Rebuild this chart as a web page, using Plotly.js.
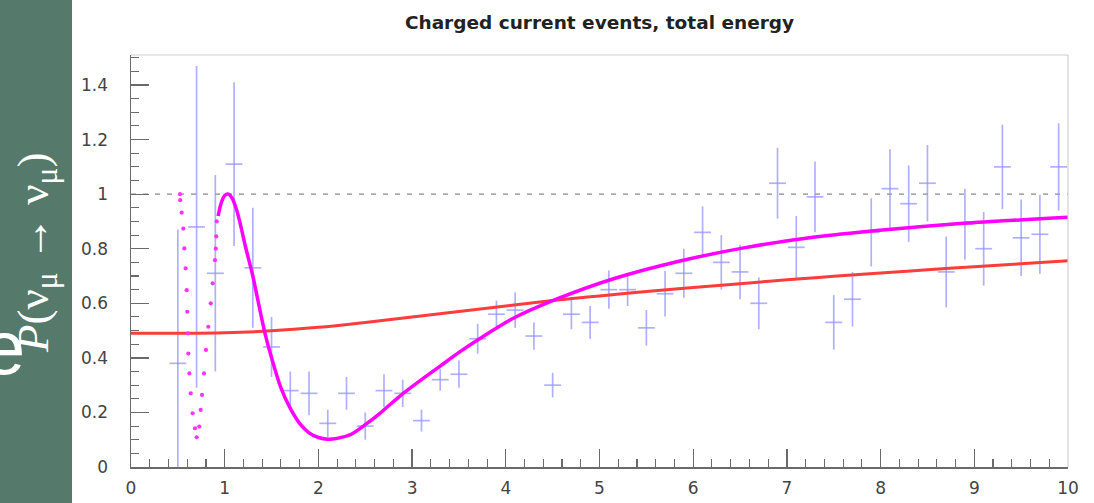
<!DOCTYPE html>
<html>
<head>
<meta charset="utf-8">
<script src="https://cdn.plot.ly/plotly-3.0.1.min.js"></script>
<style>
  html, body { margin: 0; padding: 0; background: #ffffff; }
  #chart { width: 1094px; height: 503px; }
</style>
</head>
<body>
<div id="chart"></div>
<script>
// Measured survival ratio per 0.2-wide energy bin, with statistical errors
const binCentres = [0.5, 0.7, 0.9, 1.1, 1.3, 1.5, 1.7, 1.9, 2.1, 2.3, 2.5, 2.7, 2.9, 3.1, 3.3, 3.5,
  3.7, 3.9, 4.1, 4.3, 4.5, 4.7, 4.9, 5.1, 5.3, 5.5, 5.7, 5.9, 6.1, 6.3, 6.5, 6.7,
  6.9, 7.1, 7.3, 7.5, 7.7, 7.9, 8.1, 8.3, 8.5, 8.7, 8.9, 9.1, 9.3, 9.5, 9.7, 9.9];
const ratio = [0.38, 0.88, 0.71, 1.11, 0.73, 0.44, 0.28, 0.27, 0.16, 0.27, 0.15, 0.28, 0.27, 0.17, 0.32, 0.34,
  0.47, 0.56, 0.575, 0.48, 0.30, 0.56, 0.53, 0.65, 0.65, 0.51, 0.635, 0.71, 0.86, 0.75, 0.715, 0.60,
  1.04, 0.805, 0.99, 0.53, 0.615, 0.86, 1.02, 0.965, 1.04, 0.715, 0.89, 0.80, 1.10, 0.84, 0.853, 1.10];
const ratioErr = [0.49, 0.59, 0.36, 0.30, 0.22, 0.11, 0.07, 0.08, 0.05, 0.06, 0.05, 0.06, 0.05, 0.04, 0.04, 0.05,
  0.055, 0.05, 0.065, 0.05, 0.045, 0.055, 0.06, 0.07, 0.06, 0.065, 0.083, 0.09, 0.095, 0.10, 0.10, 0.095,
  0.13, 0.115, 0.13, 0.10, 0.10, 0.125, 0.145, 0.14, 0.14, 0.13, 0.13, 0.135, 0.155, 0.14, 0.145, 0.16];

// Smooth alternative hypothesis curve
const altE = [0, 0.5, 1.0, 1.5, 2.0, 2.5, 3.0, 3.5, 4.0, 4.5, 5.0, 5.5, 6.0, 6.5, 7.0, 7.5, 8.0, 8.5, 9.0, 9.5, 10];
const altP = [0.490, 0.490, 0.492, 0.499, 0.512, 0.530, 0.550, 0.570, 0.590, 0.610, 0.627, 0.643, 0.658, 0.672, 0.686, 0.699, 0.711, 0.723, 0.734, 0.745, 0.756];

// Oscillation prediction, above the fast-oscillation region
const oscE = [0.93, 0.96, 1.00, 1.04, 1.08, 1.12, 1.16, 1.22, 1.30, 1.37, 1.43, 1.50, 1.60, 1.70, 1.80, 1.90,
  2.00, 2.10, 2.20, 2.35, 2.50, 2.65, 2.87, 3.10, 3.30, 3.50, 3.72, 4.08, 4.54, 5.15, 5.86, 6.57, 7.28, 7.99, 8.88, 10.0];
const oscP = [0.92, 0.965, 0.995, 1.00, 0.985, 0.95, 0.90, 0.81, 0.70, 0.585, 0.49, 0.40, 0.29, 0.215, 0.16, 0.125,
  0.108, 0.102, 0.105, 0.12, 0.155, 0.195, 0.26, 0.32, 0.37, 0.42, 0.47, 0.545, 0.615, 0.69, 0.755, 0.805, 0.842, 0.868, 0.893, 0.915];

// Oscillation prediction at low energy, drawn dotted
const oscLowE = [0.523, 0.525, 0.541, 0.558, 0.569, 0.583, 0.594, 0.601, 0.608, 0.612, 0.623, 0.637, 0.658, 0.683, 0.701,
  0.729, 0.744, 0.758, 0.779, 0.800, 0.825, 0.851, 0.872, 0.896, 0.905, 0.910, 0.915];
const oscLowP = [1.00, 0.978, 0.932, 0.874, 0.801, 0.728, 0.648, 0.569, 0.49, 0.416, 0.343, 0.270, 0.197, 0.142, 0.109,
  0.148, 0.209, 0.264, 0.343, 0.429, 0.514, 0.600, 0.673, 0.758, 0.80, 0.845, 0.90];

const xTickVals = [0, 1, 2, 3, 4, 5, 6, 7, 8, 9, 10];
const xTickText = ['0', '1', '2', '3', '4', '5', '6', '7', '8', '9', '10'];
const yTickVals = [0, 0.2, 0.4, 0.6, 0.8, 1, 1.2, 1.4];
const yTickText = ['0', '0.2', '0.4', '0.6', '0.8', '1', '1.2', '1.4'];

const titleText = 'Charged current events, total energy';
const yLabelText = '<i>P</i>(ν<sub>μ</sub> → ν<sub>μ</sub>)';

const axisGrey = '#6a6a6a';
const crossBlue = 'rgba(150,150,255,0.75)';
const sansFont = 'DejaVu Sans, Liberation Sans, Arial, sans-serif';

const traces = [
  {
    x: binCentres, y: ratio, type: 'scatter', mode: 'markers',
    marker: { size: 1, color: 'rgba(0,0,0,0)' },
    error_y: { type: 'data', array: ratioErr, visible: true, color: crossBlue, thickness: 1.7, width: 0 },
    error_x: { type: 'constant', value: 0.09, visible: true, color: crossBlue, thickness: 1.7, width: 0 },
    hoverinfo: 'skip', showlegend: false
  },
  {
    x: altE, y: altP, type: 'scatter', mode: 'lines',
    line: { color: '#ff3c3c', width: 3, shape: 'spline', smoothing: 1 },
    showlegend: false
  },
  {
    x: oscLowE, y: oscLowP, type: 'scatter', mode: 'markers',
    marker: { color: '#ff33ff', size: 4.2, line: { width: 0 } },
    showlegend: false
  },
  {
    x: oscE, y: oscP, type: 'scatter', mode: 'lines',
    line: { color: '#ff00ff', width: 3.5, shape: 'spline', smoothing: 0.7 },
    showlegend: false
  }
];

const layout = {
  width: 1094, height: 503,
  margin: { l: 131, r: 26, t: 55, b: 36 },
  paper_bgcolor: '#ffffff', plot_bgcolor: '#ffffff',
  showlegend: false,
  font: { family: sansFont, color: '#444444' },
  title: {
    text: '<b>' + titleText + '</b>',
    font: { family: sansFont, size: 18.5, color: '#222222' },
    x: 0.5, xref: 'paper', xanchor: 'center',
    y: 0.956, yref: 'container', yanchor: 'middle'
  },
  xaxis: {
    range: [0, 10], fixedrange: true,
    tickvals: xTickVals, ticktext: xTickText,
    ticks: 'inside', ticklen: 18, tickwidth: 1.3, tickcolor: axisGrey,
    minor: { dtick: 0.2, ticks: 'inside', ticklen: 8, tickwidth: 1.1, tickcolor: axisGrey },
    showline: true, linecolor: axisGrey, linewidth: 1.5,
    showgrid: false, zeroline: false,
    tickfont: { family: sansFont, size: 17, color: '#444444' },
    ticklabelstandoff: 5
  },
  yaxis: {
    range: [0, 1.51], fixedrange: true,
    tickvals: yTickVals, ticktext: yTickText,
    ticks: 'inside', ticklen: 18, tickwidth: 1.3, tickcolor: axisGrey,
    minor: { dtick: 0.05, ticks: 'inside', ticklen: 8, tickwidth: 1.1, tickcolor: axisGrey },
    showline: true, linecolor: axisGrey, linewidth: 1.5,
    showgrid: false, zeroline: false,
    tickfont: { family: sansFont, size: 17, color: '#444444' },
    ticklabelstandoff: 18
  },
  shapes: [
    // dark green side strip
    { type: 'rect', xref: 'paper', yref: 'paper', x0: -131 / 937, x1: (72 - 131) / 937,
      y0: -36 / 412, y1: 1 + 55 / 412, fillcolor: '#557a6b', line: { width: 0 }, layer: 'below' },
    // frame on top and right
    { type: 'line', xref: 'paper', yref: 'paper', x0: 0, x1: 1, y0: 1, y1: 1,
      line: { color: '#d0d0d0', width: 1.2 } },
    { type: 'line', xref: 'paper', yref: 'paper', x0: 1, x1: 1, y0: 0, y1: 1,
      line: { color: '#d0d0d0', width: 1.2 } },
    // no-oscillation reference at P = 1
    { type: 'line', xref: 'x', yref: 'y', x0: 0, x1: 10, y0: 1, y1: 1,
      line: { color: '#8a8a8a', width: 1.2, dash: '5px,7px' }, layer: 'below' }
  ],
  annotations: [
    {
      text: yLabelText, xref: 'paper', yref: 'paper',
      x: (36 - 131) / 937, y: (467 - 253) / 412, xanchor: 'center', yanchor: 'middle',
      textangle: -90, showarrow: false,
      font: { family: 'Liberation Serif, Times New Roman, serif', size: 45, color: '#ffffff' }
    },
    {
      text: 'e', xref: 'paper', yref: 'paper',
      x: (4 - 131) / 937, y: (467 - 347) / 412, xanchor: 'center', yanchor: 'middle',
      showarrow: false,
      font: { family: 'Liberation Sans, Arial, sans-serif', size: 76, color: '#ffffff' }
    }
  ]
};

Plotly.newPlot('chart', traces, layout, { displayModeBar: false, staticPlot: true });
</script>
</body>
</html>
